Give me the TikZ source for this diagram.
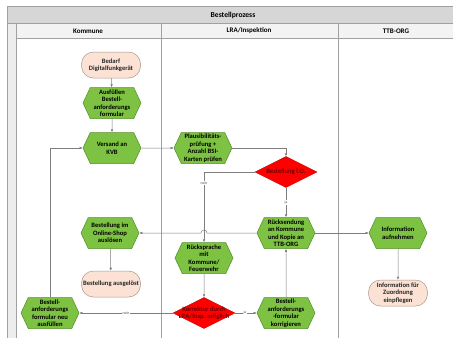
\documentclass[tikz,border=0pt]{standalone}
\usepackage{fontspec}
\setmainfont{Carlito}
\usetikzlibrary{shapes, arrows.meta}

\definecolor{hexgreen}{RGB}{125,194,66}
\definecolor{hexborder}{RGB}{84,142,44}
\definecolor{decred}{RGB}{255,0,0}
\definecolor{decborder}{RGB}{205,0,0}
\definecolor{dectext}{RGB}{110,0,0}
\definecolor{termfill}{RGB}{251,226,213}
\definecolor{termborder}{RGB}{170,150,140}
\definecolor{linegray}{RGB}{125,125,125}
\definecolor{framegray}{RGB}{160,160,160}
\definecolor{titlegray}{RGB}{214,214,214}
\definecolor{headgray}{RGB}{243,243,243}

\newcommand\flowfont{\fontsize{6.6}{7.5}\selectfont\bfseries}

\tikzset{
    hexa/.style={signal, signal to=east and west, signal pointer angle=130,
        draw=hexborder, fill=hexgreen, line width=0.5pt, minimum width=58pt,
        minimum height=31pt, inner sep=0.5pt, align=center, font=\flowfont},
    term/.style={rectangle, rounded corners=12pt, draw=termborder, fill=termfill,
        line width=0.5pt, minimum width=59pt, minimum height=26pt, inner sep=1pt,
        align=center, font=\flowfont, text=black!85},
    decide/.style={diamond, draw=decborder, fill=decred, line width=0.5pt,
        minimum width=62pt, minimum height=31pt, inner sep=0pt},
    dtext/.style={align=center, font=\flowfont, text=dectext},
    lbl/.style={fill=white, inner sep=0.6pt, font=\fontsize{3.8}{4}\selectfont, text=black!70},
    flow/.style={draw=linegray, line width=0.5pt, ->},
    lane/.style={draw=framegray, line width=0.5pt}
}

\begin{document}
\begin{tikzpicture}[x=1pt, y=1pt, >={Latex[length=3pt,width=2.6pt]}]
    \useasboundingbox (0,0) rectangle (453,-338);

    % pool and lanes
    \fill[titlegray] (7,-6) rectangle (453,-23);
    \fill[headgray] (16,-23) rectangle (453,-38);
    \fill[headgray!80!titlegray] (7,-23) rectangle (16,-338);
    \draw[lane] (453,-6) -- (7,-6) -- (7,-338);
    \draw[lane] (7,-23) -- (453,-23);
    \draw[lane] (16,-38) -- (453,-38);
    \draw[lane] (16,-23) -- (16,-338);
    \draw[lane] (161,-23) -- (161,-338);
    \draw[lane] (338,-23) -- (338,-338);

    \node (title) at (233,-15) {\fontsize{7.6}{9}\selectfont\bfseries Bestellprozess};
    \node (kommune) at (88,-31) {\fontsize{7}{8}\selectfont\bfseries Kommune};
    \node (lra) at (249,-31) {\fontsize{7}{8}\selectfont\bfseries LRA/Inspektion};
    \node (ttb) at (396,-31) {\fontsize{7}{8}\selectfont\bfseries TTB-ORG};

    % Kommune
    \node (bedarf) [term] at (111,-65) {Bedarf\\Digitalfunkgerät};
    \node (ausfuellen) [hexa] at (112,-103) {Ausfüllen\\Bestell-\\anforderungs\\formular};
    \node (versand) [hexa] at (112,-148) {Versand an\\KVB};
    \node (shop) [hexa] at (110,-233) {Bestellung im\\Online-Shop\\auslösen};
    \node (ausgeloest) [term] at (111,-284) {Bestellung ausgelöst};
    \node (neu) [hexa] at (50,-313) {Bestell-\\anforderungs\\formular neu\\ausfüllen};

    % LRA/Inspektion
    \node (plausi) [hexa] at (203,-148) {Plausibilitäts-\\prüfung +\\Anzahl BSI-\\Karten prüfen};
    \node (bestok) [decide, label={[dtext]center:Bestellung i.O.}] at (286,-172) {};
    \node (rueck) [hexa] at (286,-233) {Rücksendung\\an Kommune\\und Kopie an\\TTB-ORG};
    \node (ruecksp) [hexa] at (204,-258) {Rücksprache\\mit\\Kommune/\\Feuerwehr};
    \node (korrektur) [decide, label={[dtext]center:Korrektur durch\\LRA/Insp. möglich}] at (204,-313) {};
    \node (korrig) [hexa] at (286,-313) {Bestell-\\anforderungs\\-formular\\korrigieren};

    % TTB-ORG
    \node (infoauf) [hexa] at (398,-233) {Information\\aufnehmen};
    \node (einpfl) [term] at (398,-293) {Information für\\Zuordnung\\einpflegen};

    \draw [flow] (bedarf) -- (ausfuellen);
    \draw [flow] (ausfuellen) -- (versand);
    \draw [flow] (versand) -- (plausi);
    \draw [flow] (plausi.east) -| (bestok.north);
    \draw [flow] (bestok.west) -| node[lbl, pos=0.58] {nein} (ruecksp.north);
    \draw [flow] (bestok.south) -- node[lbl] {ja} (rueck.north);
    \draw [flow] (rueck.west) -- ([xshift=3pt]ruecksp.north |- rueck.west)
        arc[start angle=0, end angle=180, radius=3pt] -- (shop.east);
    \draw [flow] (rueck.east) -- (infoauf.west);
    \draw [flow] (shop) -- (ausgeloest);
    \draw [flow] (ruecksp) -- (korrektur);
    \draw [flow] (korrektur.west) -- node[lbl] {nein} (neu.east);
    \draw [flow] (korrektur.east) -- node[lbl, pos=0.45] {ja} (korrig.west);
    \draw [flow] (korrig) -- (rueck);
    \draw [flow] (neu.north) |- (versand.west);
    \draw [flow] (infoauf) -- (einpfl);
\end{tikzpicture}
\end{document}
